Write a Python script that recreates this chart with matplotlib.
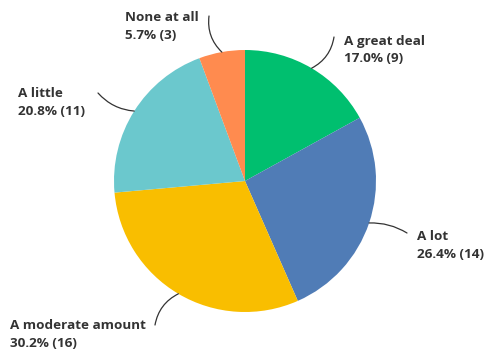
import numpy as np
import matplotlib.pyplot as plt

# survey answers
labels = ["A great deal", "A lot", "A moderate amount", "A little", "None at all"]
counts = [9, 14, 16, 11, 3]
percents = ["17.0%", "26.4%", "30.2%", "20.8%", "5.7%"]
colors = ["#00BF6F", "#507CB6", "#F9BE00", "#6BC8CD", "#FF8B4F"]

# label placement (pixel coords, y down) and leader line end points
text_pos = [(344, 50), (417, 245.5), (10, 334.5), (18, 102.5), (125, 26.5)]
line_end = [(334, 37), (407, 233), (155, 325), (98, 93), (209, 16)]
line_rad = [-0.25, 0.15, -0.25, 0.2, 0.25]

plt.rcParams['font.family'] = ['Open Sans', 'DejaVu Sans']

fig = plt.figure(figsize=(4.89, 3.51), dpi=100)
ax = fig.add_axes([0, 0, 1, 1])

cx, cy, r = 245, 181, 131
wedges, _ = ax.pie(counts, colors=colors, startangle=-90, counterclock=True,
                   center=(cx, cy), radius=r, frame=True)
ax.set_xlim(0, 489)
ax.set_ylim(351, 0)
ax.axis('off')

for w, lab, n, pct, tp, le, rad in zip(wedges, labels, counts, percents,
                                        text_pos, line_end, line_rad):
    ang = np.deg2rad((w.theta1 + w.theta2) / 2)
    x0 = cx + r * np.cos(ang)
    y0 = cy + r * np.sin(ang)
    ax.annotate("", xy=(x0, y0), xytext=le,
                arrowprops=dict(arrowstyle='-', color='#333333', lw=0.9,
                                shrinkA=0, shrinkB=0,
                                connectionstyle=f"arc3,rad={rad}"))
    ax.text(tp[0], tp[1], f"{lab}\n{pct} ({n})", ha='left', va='center',
            fontsize=9.7, fontweight='bold', color='#333333',
            linespacing=1.45)

fig.savefig("out.png", dpi=100)
